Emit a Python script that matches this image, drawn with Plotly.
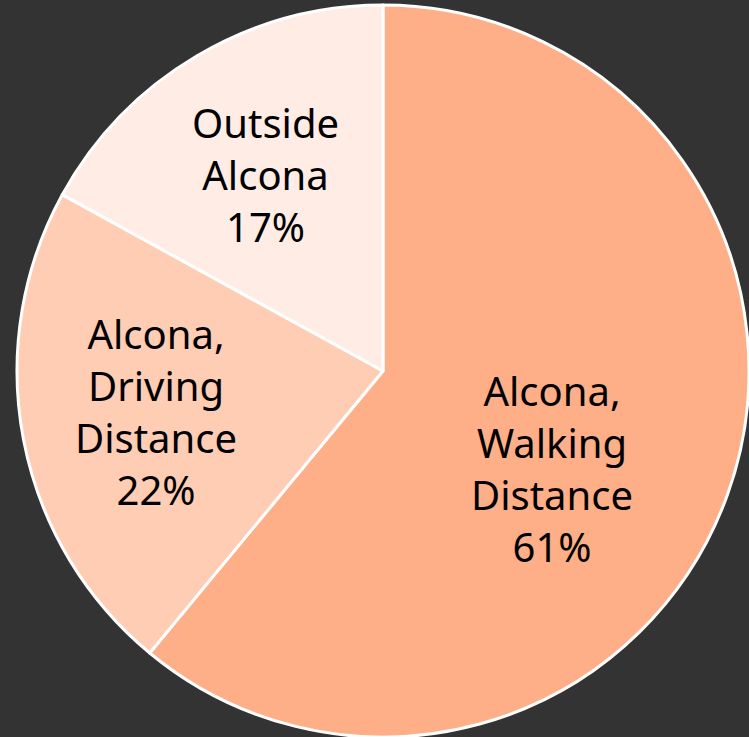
import plotly.graph_objects as go

labels = ["Alcona,<br>Walking<br>Distance", "Alcona,<br>Driving<br>Distance", "Outside<br>Alcona"]
values = [61, 22, 17]
colors = ["#FFAF87", "#FFCCB4", "#FFEDE5"]

# label anchor positions (paper fractions) for the text block of each slice
label_x = [552 / 749, 156 / 749, 265 / 749]
label_y = [1 - 468 / 737, 1 - 411 / 737, 1 - 174 / 737]

fig = go.Figure(go.Pie(
    labels=labels,
    values=values,
    sort=False,
    direction="clockwise",
    rotation=0,
    marker=dict(colors=colors, line=dict(color="#FFFFFF", width=3)),
    textinfo="none",
    hoverinfo="skip",
    domain=dict(x=[17/749, 1.0], y=[0.0, 732/737]),
    showlegend=False,
))

total = sum(values)
for lab, v, x, y in zip(labels, values, label_x, label_y):
    fig.add_annotation(
        x=x, y=y, xref="paper", yref="paper",
        text=f"{lab}<br>{round(100 * v / total)}%",
        showarrow=False, xanchor="center", yanchor="middle", align="center",
        font=dict(family="Noto Sans", size=40, color="#000000"),
    )

fig.update_layout(
    width=749, height=737,
    margin=dict(l=0, r=0, t=0, b=0),
    paper_bgcolor="#333333",
    plot_bgcolor="#333333",
)
fig.write_html(
    "out.html",
    config={"displayModeBar": False},
    post_script="document.body.style.margin='0';document.body.style.background='#333333';",
)
